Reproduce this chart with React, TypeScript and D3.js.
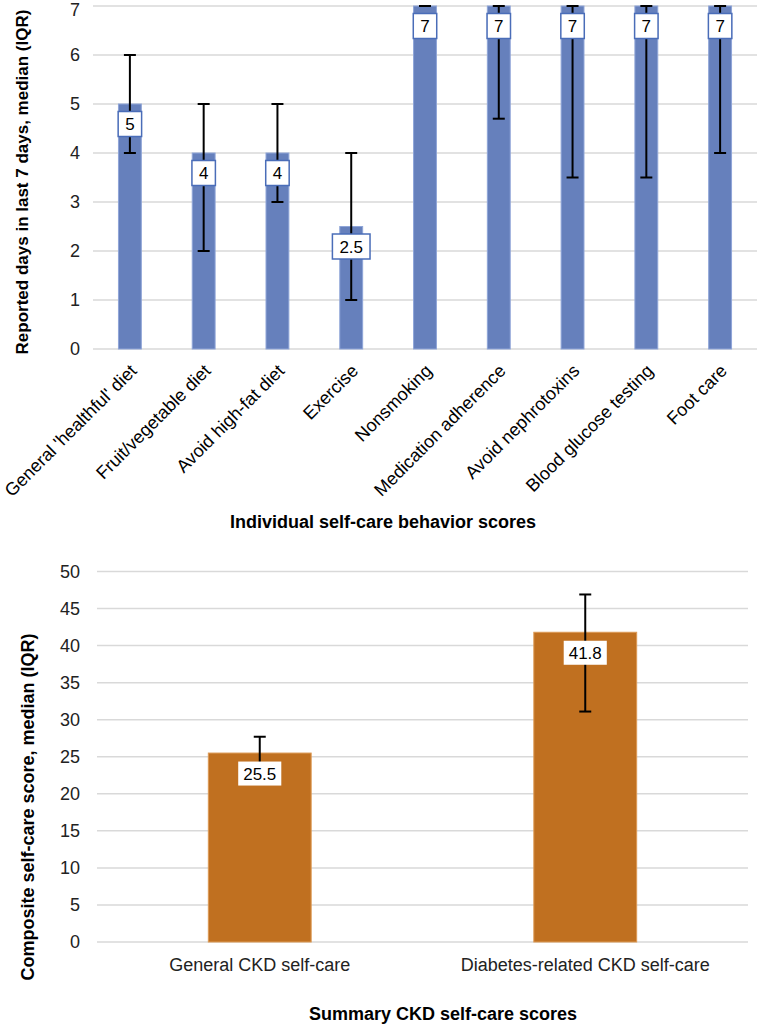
import React from "react";
import * as d3 from "d3";

const behaviorCategories = [
  "General 'healthful' diet",
  "Fruit/vegetable diet",
  "Avoid high-fat diet",
  "Exercise",
  "Nonsmoking",
  "Medication adherence",
  "Avoid nephrotoxins",
  "Blood glucose testing",
  "Foot care",
];
const behaviorMedian = [5, 4, 4, 2.5, 7, 7, 7, 7, 7];
const behaviorLow = [4, 2, 3, 1, 7, 4.7, 3.5, 3.5, 4];
const behaviorHigh = [6, 5, 5, 4, 7, 7, 7, 7, 7];
const behaviorTicks = [0, 1, 2, 3, 4, 5, 6, 7];

const summaryCategories = ["General CKD self-care", "Diabetes-related CKD self-care"];
const summaryMedian = [25.5, 41.8];
const summaryLow = [23, 31.1];
const summaryHigh = [27.7, 46.9];
const summaryTicks = [0, 5, 10, 15, 20, 25, 30, 35, 40, 45, 50];

const FONT = "'Liberation Sans', Arial, sans-serif";

function textW(s: string, size: number) {
  let w = 0;
  for (const c of s) w += c === "." ? 0.278 : 0.556;
  return w * size;
}

export default function App() {
  // Top chart
  const x1 = d3
    .scaleBand<string>()
    .domain(behaviorCategories)
    .range([93, 757])
    .paddingInner(0.69)
    .paddingOuter(0.345);
  const y1 = d3.scaleLinear().domain([0, 7]).range([349, 6]);

  // Bottom chart
  const x2 = d3
    .scaleBand<string>()
    .domain(summaryCategories)
    .range([97, 748])
    .paddingInner(0.684)
    .paddingOuter(0.342);
  const y2 = d3.scaleLinear().domain([0, 50]).range([942, 571.5]);

  const blue = "#6680bc";
  const orange = "#c07020";

  return (
    <svg
      width={759}
      height={1024}
      style={{ position: "absolute", left: 0, top: 0, background: "#fff" }}
      fontFamily={FONT}
    >
      {/* ---------- Top chart ---------- */}
      <g>
        {behaviorTicks.map((t) => (
          <g key={"g1" + t}>
            <line x1={93} x2={757} y1={y1(t)} y2={y1(t)} stroke="#d9d9d9" strokeWidth={1.5} />
            <text x={80} y={Math.max(y1(t), 10)} dy="0.35em" textAnchor="end" fontSize={18} fill="#222">
              {t}
            </text>
          </g>
        ))}
        {behaviorCategories.map((c, i) => {
          const bx = x1(c)!;
          const bw = x1.bandwidth();
          return (
            <rect
              key={"b1" + c}
              x={bx}
              y={y1(behaviorMedian[i])}
              width={bw}
              height={y1(0) - y1(behaviorMedian[i])}
              fill={blue}
              stroke="#8fa5d8"
              strokeWidth={1}
            />
          );
        })}
        {behaviorCategories.map((c, i) => {
          const cx = x1(c)! + x1.bandwidth() / 2;
          const yl = y1(behaviorLow[i]);
          const yh = y1(behaviorHigh[i]);
          return (
            <g key={"e1" + c} stroke="#000" strokeWidth={2}>
              <line x1={cx} x2={cx} y1={yl} y2={yh} />
              <line x1={cx - 6} x2={cx + 6} y1={yl} y2={yl} />
              <line x1={cx - 6} x2={cx + 6} y1={yh} y2={yh} />
            </g>
          );
        })}
        {behaviorCategories.map((c, i) => {
          const cx = x1(c)! + x1.bandwidth() / 2;
          const label = String(behaviorMedian[i]);
          const w = textW(label, 17) + 14;
          const h = 25;
          const cy = y1(behaviorMedian[i]) + 20;
          return (
            <g key={"l1" + c}>
              <rect
                x={cx - w / 2}
                y={cy - h / 2}
                width={w}
                height={h}
                fill="#fff"
                stroke="#4a6db8"
                strokeWidth={1.5}
              />
              <text x={cx} y={cy} dy="0.36em" textAnchor="middle" fontSize={17} fill="#000">
                {label}
              </text>
            </g>
          );
        })}
        {behaviorCategories.map((c) => {
          const cx = x1(c)! + x1.bandwidth() / 2;
          return (
            <text
              key={"xl1" + c}
              transform={`translate(${cx + 8},${372}) rotate(-45)`}
              textAnchor="end"
              fontSize={18}
              fill="#000"
            >
              {c}
            </text>
          );
        })}
        <text x={383} y={528} textAnchor="middle" fontSize={18} fontWeight="bold" fill="#000">
          Individual self-care behavior scores
        </text>
        <text
          transform={`translate(28,182) rotate(-90)`}
          textAnchor="middle"
          fontSize={17}
          fontWeight="bold"
          fill="#000"
        >
          Reported days in last 7 days, median (IQR)
        </text>
      </g>

      {/* ---------- Bottom chart ---------- */}
      <g>
        {summaryTicks.map((t) => (
          <g key={"g2" + t}>
            <line x1={97} x2={748} y1={y2(t)} y2={y2(t)} stroke="#d9d9d9" strokeWidth={1.5} />
            <text x={80} y={y2(t)} dy="0.35em" textAnchor="end" fontSize={18} fill="#222">
              {t}
            </text>
          </g>
        ))}
        {summaryCategories.map((c, i) => (
          <rect
            key={"b2" + c}
            x={x2(c)!}
            y={y2(summaryMedian[i])}
            width={x2.bandwidth()}
            height={y2(0) - y2(summaryMedian[i])}
            fill={orange}
            stroke="#dc9a55"
            strokeWidth={1}
          />
        ))}
        {summaryCategories.map((c, i) => {
          const cx = x2(c)! + x2.bandwidth() / 2;
          const yl = y2(summaryLow[i]);
          const yh = y2(summaryHigh[i]);
          return (
            <g key={"e2" + c} stroke="#000" strokeWidth={2}>
              <line x1={cx} x2={cx} y1={yl} y2={yh} />
              <line x1={cx - 6} x2={cx + 6} y1={yl} y2={yl} />
              <line x1={cx - 6} x2={cx + 6} y1={yh} y2={yh} />
            </g>
          );
        })}
        {summaryCategories.map((c, i) => {
          const cx = x2(c)! + x2.bandwidth() / 2;
          const label = String(summaryMedian[i]);
          const w = textW(label, 17) + 10;
          const h = 24;
          const cy = y2(summaryMedian[i]) + 20.5;
          return (
            <g key={"l2" + c}>
              <rect x={cx - w / 2} y={cy - h / 2} width={w} height={h} fill="#fff" />
              <text x={cx} y={cy} dy="0.36em" textAnchor="middle" fontSize={17} fill="#000">
                {label}
              </text>
            </g>
          );
        })}
        {summaryCategories.map((c) => {
          const cx = x2(c)! + x2.bandwidth() / 2;
          return (
            <text key={"xl2" + c} x={cx} y={971} textAnchor="middle" fontSize={18} fill="#222">
              {c}
            </text>
          );
        })}
        <text x={443} y={1020} textAnchor="middle" fontSize={18} fontWeight="bold" fill="#000">
          Summary CKD self-care scores
        </text>
        <text
          transform={`translate(34,807) rotate(-90)`}
          textAnchor="middle"
          fontSize={18}
          fontWeight="bold"
          fill="#000"
        >
          Composite self-care score, median (IQR)
        </text>
      </g>
    </svg>
  );
}
